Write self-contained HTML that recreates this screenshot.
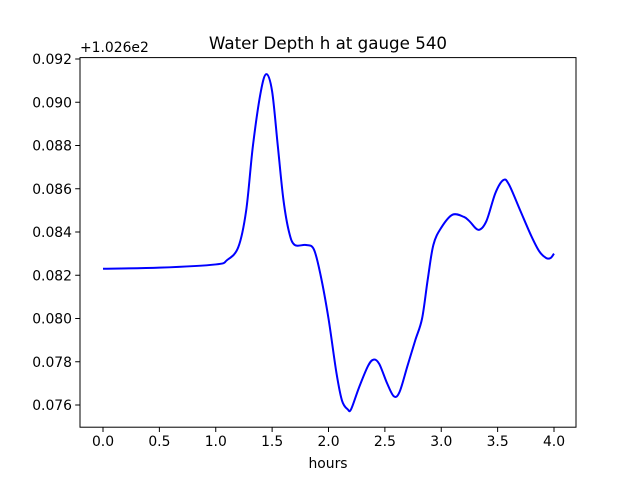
<!DOCTYPE html>
<html><head><meta charset="utf-8"><style>
body{margin:0;background:#fff}
svg text{font-family:"DejaVu Sans","Liberation Sans",sans-serif;font-size:13.9px;fill:#000}
</style></head><body>
<svg id="chart" width="640" height="480" viewBox="0 0 640 480">
<rect width="640" height="480" fill="#fff"/>
<text x="328" y="49" text-anchor="middle" style="font-size:16.7px">Water Depth h at gauge 540</text>
<text x="80" y="52">+1.026e2</text>
<text x="328" y="468" text-anchor="middle">hours</text>
<g id="ticks"></g>
<path id="line" fill="none" stroke="#0000ff" stroke-width="2"/>
<rect x="80" y="57.6" width="496" height="369.6" fill="none" stroke="#000" stroke-width="1"/>
</svg>
<script>
const hours=[0,0.5,1.0,1.1,1.2,1.27,1.33,1.4,1.45,1.5,1.55,1.6,1.65,1.7,1.8,1.87,1.93,2.0,2.07,2.12,2.17,2.2,2.27,2.35,2.4,2.45,2.52,2.58,2.63,2.7,2.77,2.83,2.88,2.93,3.0,3.1,3.2,3.25,3.33,3.4,3.48,3.55,3.6,3.7,3.8,3.87,3.93,3.97,4.0];
const depth=[0.0823,0.08235,0.0825,0.0827,0.0833,0.0850,0.0880,0.0905,0.0913,0.0905,0.0880,0.0855,0.0840,0.0834,0.0834,0.0832,0.0820,0.0800,0.0775,0.0762,0.0758,0.0758,0.0768,0.0778,0.0781,0.0779,0.0770,0.0764,0.0766,0.0778,0.0790,0.0800,0.0818,0.0834,0.0842,0.0848,0.0847,0.0845,0.0841,0.0845,0.0858,0.0864,0.0862,0.0850,0.0838,0.0831,0.0828,0.0828,0.0830];
const xTicks=[0,0.5,1,1.5,2,2.5,3,3.5,4];
const xTickLabels=["0.0","0.5","1.0","1.5","2.0","2.5","3.0","3.5","4.0"];
const yTicks=[0.076,0.078,0.080,0.082,0.084,0.086,0.088,0.090,0.092];
const yTickLabels=["0.076","0.078","0.080","0.082","0.084","0.086","0.088","0.090","0.092"];
const X=v=>103+v*112.75;
const Y=v=>405-(v-0.076)*21625;
const NS="http://www.w3.org/2000/svg";
const g=document.getElementById('ticks');
function mk(t,a){const e=document.createElementNS(NS,t);for(const k in a)e.setAttribute(k,a[k]);g.appendChild(e);return e;}
xTicks.forEach((v,i)=>{
 const l=mk('line',{x1:X(v),x2:X(v),y1:427.2,y2:432,stroke:'#000','stroke-width':1});
 
 
 const t=mk('text',{x:X(v),y:446,'text-anchor':'middle'});t.textContent=xTickLabels[i];
 
 
});
yTicks.forEach((v,i)=>{
 const l=mk('line',{x1:75.2,x2:80,y1:Y(v),y2:Y(v),stroke:'#000','stroke-width':1});
 
 
 const t=mk('text',{x:72,y:Y(v)+5,'text-anchor':'end'});t.textContent=yTickLabels[i];
 
 
});
const P=hours.map((h,i)=>[X(h),Y(depth[i])]);
let d='M'+P[0][0]+','+P[0][1];
for(let i=0;i<P.length-1;i++){
 const p0=P[Math.max(0,i-1)],p1=P[i],p2=P[i+1],p3=P[Math.min(P.length-1,i+2)];
 const c1=[p1[0]+(p2[0]-p0[0])/6,p1[1]+(p2[1]-p0[1])/6];
 const c2=[p2[0]-(p3[0]-p1[0])/6,p2[1]-(p3[1]-p1[1])/6];
 d+=` C${c1[0]},${c1[1]} ${c2[0]},${c2[1]} ${p2[0]},${p2[1]}`;
}
document.getElementById('line').setAttribute('d',d);
</script>
</body></html>
